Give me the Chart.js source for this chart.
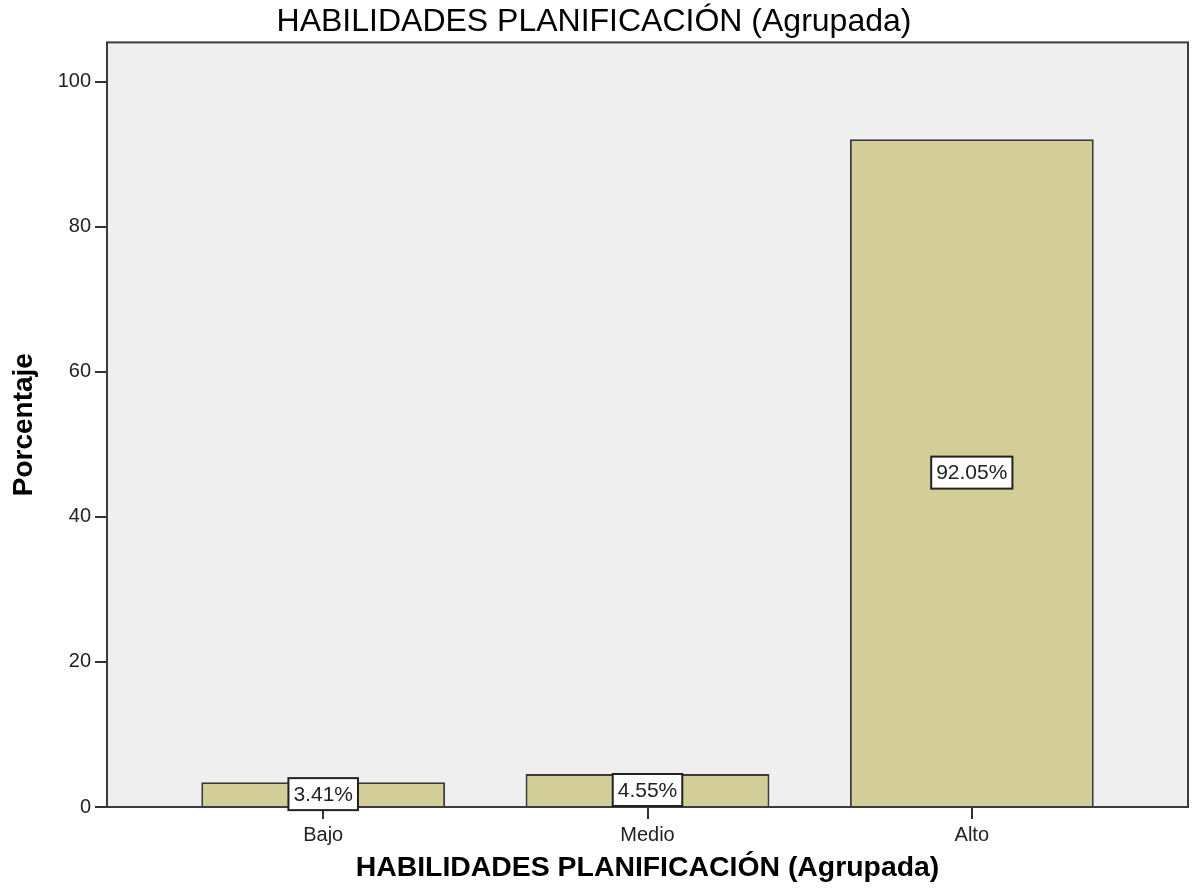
<!DOCTYPE html>
<html>
<head>
<meta charset="utf-8">
<script src="https://cdn.jsdelivr.net/npm/chart.js@4.4.0/dist/chart.umd.min.js"></script>
<style>
  body { margin: 0; background: #fff; }
  canvas { display: block; }
</style>
</head>
<body>
<canvas id="myChart" width="1197" height="893"></canvas>
<script>
'use strict';

// data
var categories = ['Bajo', 'Medio', 'Alto'];
var positions = [1, 2, 3];
var percentages = [3.41, 4.55, 92.05];
var yTicks = [0, 20, 40, 60, 80, 100];
var chartTitle = 'HABILIDADES PLANIFICACIÓN (Agrupada)';
var xTitle = 'HABILIDADES PLANIFICACIÓN (Agrupada)';
var yTitle = 'Porcentaje';

var fontFamily = "'Liberation Sans', Arial, sans-serif";

// grey plot area and its frame
var plotFrame = {
  id: 'plotFrame',
  beforeDraw: function (chart) {
    var a = chart.chartArea;
    var ctx = chart.ctx;
    ctx.save();
    ctx.fillStyle = '#efefef';
    ctx.fillRect(a.left, a.top, a.right - a.left, a.bottom - a.top);
    ctx.restore();
  },
  afterDatasetsDraw: function (chart) {
    var a = chart.chartArea;
    var ctx = chart.ctx;
    ctx.save();
    ctx.strokeStyle = '#3c3c3c';
    ctx.lineWidth = 2;
    ctx.strokeRect(a.left, a.top, a.right - a.left, a.bottom - a.top);
    ctx.restore();
  }
};

// boxed percentage labels in the middle of each bar
var boxLabels = {
  id: 'boxLabels',
  afterDraw: function (chart) {
    var ctx = chart.ctx;
    var meta = chart.getDatasetMeta(0);
    ctx.save();
    ctx.font = '21px ' + fontFamily;
    ctx.textAlign = 'center';
    ctx.textBaseline = 'middle';
    meta.data.forEach(function (bar, i) {
      var text = percentages[i].toFixed(2) + '%';
      var w = ctx.measureText(text).width + 10;
      var h = 32;
      var mid = (bar.y + bar.base) / 2;
      ctx.fillStyle = '#ffffff';
      ctx.fillRect(bar.x - w / 2, mid - h / 2, w, h);
      ctx.strokeStyle = '#222222';
      ctx.lineWidth = 2;
      ctx.strokeRect(bar.x - w / 2, mid - h / 2, w, h);
      ctx.fillStyle = '#222222';
      ctx.fillText(text, bar.x, mid + 1);
    });
    ctx.restore();
  }
};

var ctx = document.getElementById('myChart').getContext('2d');
var chart = new Chart(ctx, {
  type: 'bar',
  data: {
    datasets: [{
      data: positions.map(function (p, i) { return { x: p, y: percentages[i] }; }),
      backgroundColor: '#d3ce97',
      borderColor: '#3a3a3a',
      borderWidth: 2,
      categoryPercentage: 1,
      barPercentage: 0.752
    }]
  },
  options: {
    responsive: false,
    animation: false,
    devicePixelRatio: 1,
    layout: { padding: { left: 0, right: 9, top: 0, bottom: 0 } },
    plugins: {
      legend: { display: false },
      tooltip: { enabled: false },
      title: {
        display: true,
        text: chartTitle,
        color: '#000',
        font: { family: fontFamily, size: 32, weight: 'normal' },
        padding: { top: 3, bottom: 1 }
      }
    },
    scales: {
      x: {
        type: 'linear',
        offset: false,
        min: 0.3333,
        max: 3.6667,
        afterBuildTicks: function (scale) {
          scale.ticks = positions.map(function (p) { return { value: p }; });
        },
        afterFit: function (scale) { scale.height = 86; },
        grid: { offset: false, drawOnChartArea: false, tickLength: 12, color: '#333', lineWidth: 2 },
        border: { display: false },
        ticks: {
          padding: 4,
          color: '#222',
          font: { family: fontFamily, size: 20 },
          maxRotation: 0,
          callback: function (value) { return categories[positions.indexOf(value)]; }
        },
        title: {
          display: true,
          text: xTitle,
          color: '#000',
          font: { family: fontFamily, size: 28.4, weight: 'bold' },
          padding: { top: 0, bottom: 8 }
        }
      },
      y: {
        min: 0,
        max: 105.4,
        afterBuildTicks: function (scale) {
          scale.ticks = yTicks.map(function (v) { return { value: v }; });
        },
        afterFit: function (scale) { scale.width = 107; },
        grid: { drawOnChartArea: false, tickLength: 12, color: '#333', lineWidth: 2 },
        border: { display: false },
        ticks: {
          padding: 4,
          color: '#222',
          font: { family: fontFamily, size: 20 }
        },
        title: {
          display: true,
          text: yTitle,
          color: '#000',
          font: { family: fontFamily, size: 28, weight: 'bold' },
          padding: { top: 7, bottom: 0 }
        }
      }
    }
  },
  plugins: [plotFrame, boxLabels]
});
</script>
</body>
</html>
